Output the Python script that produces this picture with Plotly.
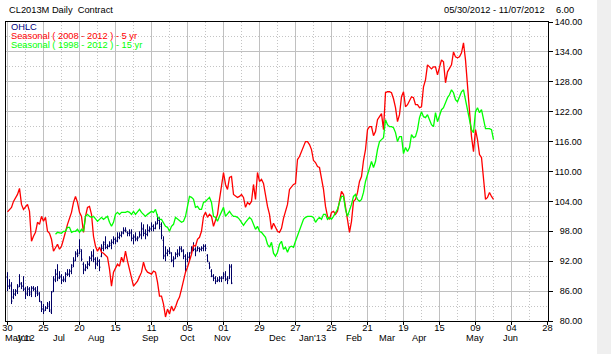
import plotly.graph_objects as go

# ---------------- data ----------------
tick_days = [0, 18, 36, 54, 72, 90, 108, 126, 144, 162, 180, 198, 216, 234, 252, 270]
tick_labels = ["30", "25", "20", "15", "11", "05", "01", "29", "27", "25", "21", "19", "15", "09", "04", "28"]
minor_days = [9, 27, 45, 63, 81, 99, 117, 135, 153, 171, 189, 207, 225, 243, 261]
month_days = [6, 8, 25.5, 44.5, 71.5, 90, 107.5, 135, 152.5, 173, 189.5, 205.5, 233.5, 251.5]
month_labels = ["May'12", "Jun", "Jul", "Aug", "Sep", "Oct", "Nov", "Dec", "Jan'13", "Feb", "Mar", "Apr", "May", "Jun"]
price_ticks = [80, 86, 92, 98, 104, 110, 116, 122, 128, 134, 140]
price_minor = [83, 89, 95, 101, 107, 113, 119, 125, 131, 137]

ohlc_high = [89.8, 88.4, 87.8, 86.4, 86.4, 87.4, 89.4, 87.8, 89.0, 86.8,
             87.0, 86.8, 87.0, 87.0, 86.8, 87.0, 85.8, 84.0, 83.4, 83.0,
             83.8, 84.0, 86.0, 89.0, 90.4, 91.4, 90.0, 89.4, 89.0, 89.8,
             90.4, 90.4, 91.4, 92.8, 94.0, 94.4, 96.4, 94.4, 91.8, 91.4,
             92.0, 93.0, 94.0, 94.4, 92.8, 92.8, 92.4, 95.4, 96.0, 97.0,
             95.4, 96.0, 96.4, 97.0, 96.8, 97.8, 97.8, 98.0, 98.8, 98.8,
             98.0, 98.4, 98.4, 97.4, 97.8, 97.0, 98.0, 99.8, 99.4, 98.4,
             99.4, 99.0, 99.8, 99.4, 100.0, 101.4, 100.8, 99.8, 97.0, 95.0,
             94.4, 94.8, 93.8, 93.0, 93.8, 94.4, 95.0, 95.0, 94.4, 93.4,
             93.8, 93.8, 95.0, 95.8, 94.8, 95.0, 94.8, 95.0, 95.4, 95.4,
             93.4, 91.8, 90.4, 89.4, 89.0, 88.8, 89.0, 89.0, 89.8, 90.0,
             89.0, 91.4, 91.4]
ohlc_low = [86.0, 86.4, 83.4, 84.4, 85.0, 85.4, 86.8, 86.4, 86.0, 84.4,
            85.0, 85.0, 84.8, 86.0, 84.8, 85.0, 83.8, 81.8, 81.4, 82.0,
            82.4, 81.8, 81.4, 85.8, 87.8, 88.0, 88.4, 87.4, 87.8, 87.8,
            89.0, 88.8, 89.4, 90.8, 92.0, 92.8, 93.4, 92.0, 89.4, 90.0,
            90.4, 91.0, 92.0, 91.8, 90.4, 91.0, 90.0, 92.8, 94.0, 94.4,
            94.4, 94.8, 94.4, 95.4, 95.4, 95.8, 96.4, 96.8, 97.4, 97.8,
            97.0, 97.0, 96.0, 95.4, 96.0, 96.0, 96.8, 96.4, 97.0, 96.4,
            97.0, 97.8, 98.0, 98.0, 98.4, 99.4, 98.4, 96.4, 92.4, 92.0,
            93.0, 93.4, 91.8, 90.8, 92.4, 92.8, 93.0, 93.8, 92.4, 89.8,
            91.8, 92.0, 93.4, 94.0, 93.0, 94.0, 93.8, 94.0, 94.0, 94.0,
            91.8, 90.4, 88.8, 88.0, 87.4, 87.8, 87.8, 87.8, 88.4, 88.0,
            87.4, 88.4, 87.4]
ohlc_open = [88.8, 87.0, 87.2, 84.8, 85.4, 86.0, 87.0, 87.6, 87.0, 86.4,
             85.6, 86.4, 85.4, 86.6, 86.4, 86.0, 85.4, 83.8, 82.4, 82.2,
             82.6, 83.4, 81.8, 86.0, 88.2, 89.4, 88.8, 88.8, 88.2, 88.2,
             89.4, 89.4, 90.0, 91.2, 92.2, 93.6, 93.6, 94.0, 91.4, 90.4,
             90.8, 91.4, 92.6, 93.2, 92.4, 91.4, 92.0, 93.0, 94.6, 95.8,
             94.8, 95.0, 95.2, 95.8, 96.4, 96.2, 96.8, 97.2, 97.8, 98.2,
             97.8, 97.6, 97.8, 96.6, 97.0, 96.4, 96.8, 97.2, 98.6, 97.6,
             97.4, 98.2, 98.4, 99.0, 98.6, 99.6, 100.2, 99.4, 96.2, 93.2,
             93.6, 94.0, 93.6, 92.2, 92.6, 93.4, 93.6, 94.6, 94.0, 93.0,
             92.4, 92.8, 93.8, 94.8, 94.4, 94.2, 94.6, 94.4, 94.6, 95.0,
             93.2, 91.6, 90.0, 89.0, 88.6, 88.0, 88.2, 88.6, 88.6, 89.4,
             88.4, 88.6, 91.0]
ohlc_close = [87.0, 87.0, 84.0, 85.4, 86.0, 86.8, 87.4, 87.0, 86.4, 85.4,
              86.4, 85.8, 86.6, 86.4, 85.6, 85.6, 84.0, 82.4, 82.0, 82.6,
              83.0, 82.2, 85.8, 88.4, 89.4, 88.6, 89.0, 88.2, 88.4, 89.4,
              89.4, 90.0, 90.8, 92.0, 93.4, 93.2, 94.4, 92.4, 90.2, 90.8,
              91.4, 92.6, 93.0, 92.4, 91.6, 92.0, 90.8, 94.6, 95.4, 94.8,
              95.0, 95.6, 95.8, 96.4, 96.0, 96.8, 97.2, 97.6, 98.2, 98.2,
              97.6, 97.6, 96.6, 96.8, 96.6, 96.6, 97.4, 98.4, 97.6, 97.4,
              98.2, 98.6, 99.0, 98.6, 99.4, 100.2, 99.0, 97.2, 93.0, 93.6,
              94.0, 93.8, 92.2, 92.4, 93.4, 93.4, 94.4, 94.2, 93.0, 91.0,
              92.8, 93.6, 94.6, 94.4, 94.0, 94.6, 94.4, 94.6, 95.0, 94.6,
              92.0, 90.8, 89.0, 88.6, 88.0, 88.2, 88.6, 88.6, 89.0, 88.4,
              88.2, 90.8, 87.6]

# Seasonal (2008-2012) 5 yr, one value per trading day from day 0 (None = not read)
seasonal5 = [101.9, None, 102.8, 104.0, None, 105.4, 106.6, 103.4, 102.4, 103.0,
             103.4, 102.0, 96.0, 97.0, 97.8, 99.8, 99.4, 101.0, 100.0, 100.8,
             98.0, 97.6, 96.4, 94.0, 94.8, 95.4, 94.4, 95.0, 96.4, None,
             99.4, None, 101.8, 103.8, 105.0, 103.8, 101.8, 101.0, 97.8, 101.0,
             102.8, 103.0, 101.4, 97.0, 95.0, 94.0, 94.8, 93.8, 93.6, None,
             92.8, 90.4, 87.0, 89.8, 90.8, 91.4, 91.0, 92.8, 91.8, 94.0,
             92.0, None, 89.0, 87.0, None, 88.0, None, 89.8, 91.8, 90.4,
             89.8, None, 89.4, 90.0, 89.8, 87.8, 85.0, 85.0, 83.4, 80.8,
             82.4, 81.4, 83.0, 82.0, 82.8, 84.0, 84.8, 86.4, 88.2, 89.8,
             90.8, 92.0, 93.4, 95.2, 95.0, 96.4, 96.8, 98.0, 101.0, 101.8,
             100.8, 101.4, 101.0, 99.0, 100.0, 101.4, 104.4, 107.4, 109.8, 107.4,
             106.4, 108.8, 109.0, 105.4, 105.0, 104.8, 105.0, 105.4, 104.8, 102.8,
             103.8, 103.4, 104.0, 107.4, 104.4, 109.8, 108.0, 108.4, 107.6, 105.0,
             103.0, 101.4, 98.4, 99.6, 98.6, 98.0, 97.8, 98.6, 100.6, 102.0,
             103.4, 106.4, 107.0, 107.4, 107.6, 112.4, 113.0, 114.0, 115.4, 116.0,
             116.0, 115.4, 114.4, 112.2, 111.8, 111.0, 110.8, 108.4, 106.4, 103.0,
             101.0, 100.4, 101.8, 102.0, 101.4, 102.0, 104.4, 106.0, 105.4, 102.8,
             99.8, 97.8, 100.0, 104.0, 104.4, 105.8, 108.0, 109.0, 112.2, 114.4,
             118.4, 119.0, 119.0, 117.2, 118.0, 120.4, 121.0, 121.6, 118.4, 125.8,
             126.0, 126.0, 125.8, 124.6, 122.8, 120.0, 121.4, 125.0, 126.0, 123.0,
             123.4, 124.4, 125.0, 124.8, 123.4, 123.4, 122.8, 123.0, 127.0, 128.4,
             131.4, 131.0, 130.6, 131.0, 131.0, 129.4, 131.0, 132.4, 132.0, 127.8,
             130.0, 130.8, 131.4, 134.0, 133.0, 132.8, 133.0, 133.8, 135.8, 132.4,
             127.0, 121.0, 117.0, 114.0, 118.4, 116.4, 113.4, 112.8, 108.0, 104.4,
             104.8, 105.8, 105.0, 104.4]

# Seasonal (1998-2012) 15 yr, starts at trading day 24
seasonal15_start = 24
seasonal15 = [97.4, 97.8, None, 97.6, 98.0, 98.0,
              98.8, 98.8, 97.8, 98.0, 98.0, 98.4, 97.8, 98.4, 98.0, 101.0,
              101.4, 101.0, 100.8, 101.0, 100.4, 100.0, 100.4, 100.8, 100.4, 100.8,
              101.0, 99.8, 99.0, 99.8, 101.4, 101.8, 101.4, 101.8, 101.8, 101.8,
              102.0, 101.8, 101.4, 102.0, 101.4, 101.8, 102.4, 101.8, 101.4, 101.0,
              101.4, 101.8, 102.0, 101.8, 102.4, 101.0, 100.4, 100.4, 99.8, 99.0,
              98.8, 98.0, 99.0, 99.4, 100.8, 100.4, 100.0, 99.8, 100.0, 101.0,
              103.0, 105.0, 104.8, 104.4, 102.8, 103.0, 102.4, 102.4, 103.8, 104.0,
              104.4, 104.8, 103.8, 101.0, 100.8, 100.0, 101.0, 102.0, 102.8, 101.0,
              101.4, 102.0, 101.4, 101.0, 101.0, 100.8, 100.4, 99.8, 99.2, 99.8,
              100.4, 100.8, 100.4, 99.2, 98.4, 99.0, 98.0, 97.8, 97.4, 96.8,
              95.4, 94.8, 95.8, 93.6, 93.0, 93.8, 95.4, 96.0, 94.4, 94.8,
              93.8, 94.8, 95.0, 94.8, 96.0, 97.0, 98.0, 99.4, 100.4, 100.8,
              101.0, 101.0, 101.0, 100.8, 99.8, 100.4, 100.8, 100.4, 101.4, 101.4,
              100.4, 100.8, 100.4, 101.0, 101.8, 102.4, 103.8, 105.0, 105.0, 102.4,
              101.0, 102.0, 103.4, 105.0, 105.4, 104.4, 104.0, 104.4, 105.8, 108.0,
              109.4, 110.8, 112.0, 110.8, 112.0, 114.4, 116.0, 116.4, 116.8, 120.4,
              119.4, 119.0, 119.0, 118.8, 117.8, 116.0, 117.0, 117.0, 113.6, 114.8,
              114.0, 114.8, 117.4, 116.8, 117.0, 118.4, 120.8, 122.0, 121.0, 120.8,
              121.4, 120.4, 119.4, 119.0, 121.8, 120.0, 121.4, 122.4, 122.8, 124.0,
              124.8, 125.4, 126.4, 125.8, 124.4, 124.0, 125.0, 126.0, 126.4, 124.4,
              122.8, 121.0, 118.4, 117.8, 122.0, 122.8, 121.8, 122.4, 120.4, 118.6,
              118.6, 118.6, 118.4, 116.4]

# ---------------- figure ----------------
FONT = "Liberation Sans, Arial, Helvetica, sans-serif"
NAVY = "#000066"
RED = "#ff0000"
GREEN = "#00ff00"

ohlc_days = list(range(len(ohlc_high)))
s5_days = list(range(len(seasonal5)))
s15_days = [seasonal15_start + k for k in range(len(seasonal15))]

fig = go.Figure()
fig.add_trace(go.Ohlc(
    x=ohlc_days, open=ohlc_open, high=ohlc_high, low=ohlc_low, close=ohlc_close,
    increasing=dict(line=dict(color=NAVY, width=1)),
    decreasing=dict(line=dict(color=NAVY, width=1)),
    tickwidth=0.5, hoverinfo="skip", name="OHLC"))
fig.add_trace(go.Scatter(x=s5_days, y=seasonal5, mode="lines", connectgaps=True,
                         line=dict(color=RED, width=1.3), hoverinfo="skip",
                         name="Seasonal ( 2008 - 2012 ) - 5 yr"))
fig.add_trace(go.Scatter(x=s15_days, y=seasonal15, mode="lines", connectgaps=True,
                         line=dict(color=GREEN, width=1.3), hoverinfo="skip",
                         name="Seasonal ( 1998 - 2012 ) - 15 yr"))

price_text = [("\u2007" if v < 100 else "") + f"{v:.2f}" for v in price_ticks]

fig.update_layout(
    width=611, height=354,
    margin=dict(l=6, r=63, t=22, b=33, pad=0, autoexpand=False),
    paper_bgcolor="white", plot_bgcolor="white",
    showlegend=False,
    font=dict(family=FONT, size=9.3, color="black"),
    xaxis=dict(
        range=[-0.75, 270.25], tickmode="array", tickvals=tick_days, ticktext=tick_labels,
        ticks="outside", ticklen=3, tickcolor="black", tickwidth=1, ticklabelstandoff=-5,
        showline=True, linecolor="black", linewidth=1, mirror=True,
        showgrid=True, gridcolor="#c0c0c0", gridwidth=1, zeroline=False,
        tickfont=dict(family=FONT, size=9.3, color="black"),
        rangeslider=dict(visible=False), automargin=False, fixedrange=True,
        minor=dict(tickmode="array", tickvals=minor_days, showgrid=True,
                   gridcolor="#c4c4c4", griddash="1px,2px", ticks=""),
    ),
    yaxis=dict(
        side="right", range=[80, 140], tickmode="array", tickvals=price_ticks, ticktext=price_text,
        ticks="outside", ticklen=4, tickcolor="black", tickwidth=1,
        showline=True, linecolor="black", linewidth=1, mirror=True,
        showgrid=True, gridcolor="#c0c0c0", gridwidth=1, zeroline=False,
        tickfont=dict(family=FONT, size=9, color="black"),
        automargin=False, fixedrange=True,
        minor=dict(tickmode="array", tickvals=price_minor, showgrid=True,
                   gridcolor="#c4c4c4", griddash="1px,2px", ticks=""),
    ),
)

# light strip at the far right of the picture
fig.add_shape(type="rect", xref="paper", yref="paper",
              x0=1 + 49 / 542, x1=1 + 63 / 542, y0=-33 / 299, y1=1 + 22 / 299,
              fillcolor="#efefef", line=dict(width=0), layer="below")

# header texts
fig.add_annotation(text="CL2013M Daily\u00a0 Contract", xref="paper", yref="paper",
                   x=0, y=1, xanchor="left", yanchor="middle", xshift=1, yshift=12,
                   showarrow=False, font=dict(family=FONT, size=9.3, color="black"))
fig.add_annotation(text="05/30/2012 - 11/07/2012", xref="paper", yref="paper",
                   x=1, y=1, xanchor="right", yanchor="middle", xshift=-1, yshift=12,
                   showarrow=False, font=dict(family=FONT, size=9.3, color="black"))
fig.add_annotation(text="6.00", xref="paper", yref="paper",
                   x=1, y=1, xanchor="left", yanchor="middle", xshift=6, yshift=12,
                   showarrow=False, font=dict(family=FONT, size=9.3, color="black"))

# legend texts
legend_items = [("OHLC", "#000080", -5), ("Seasonal ( 2008 - 2012 ) - 5 yr", RED, -14),
                ("Seasonal ( 1998 - 2012 ) - 15 yr", GREEN, -23)]
for txt, col, dy in legend_items:
    fig.add_annotation(text=txt, xref="paper", yref="paper", x=0, y=1,
                       xanchor="left", yanchor="middle", xshift=3, yshift=dy,
                       showarrow=False, font=dict(family=FONT, size=9.3, color=col))

# month labels under the day ticks
for d, m in zip(month_days, month_labels):
    fig.add_annotation(text=m, xref="x", yref="paper", x=d, y=0,
                       xanchor="center", yanchor="top", yshift=-10,
                       showarrow=False, font=dict(family=FONT, size=9.3, color="black"))

fig.write_html("out.html", config={"displayModeBar": False, "staticPlot": True})
